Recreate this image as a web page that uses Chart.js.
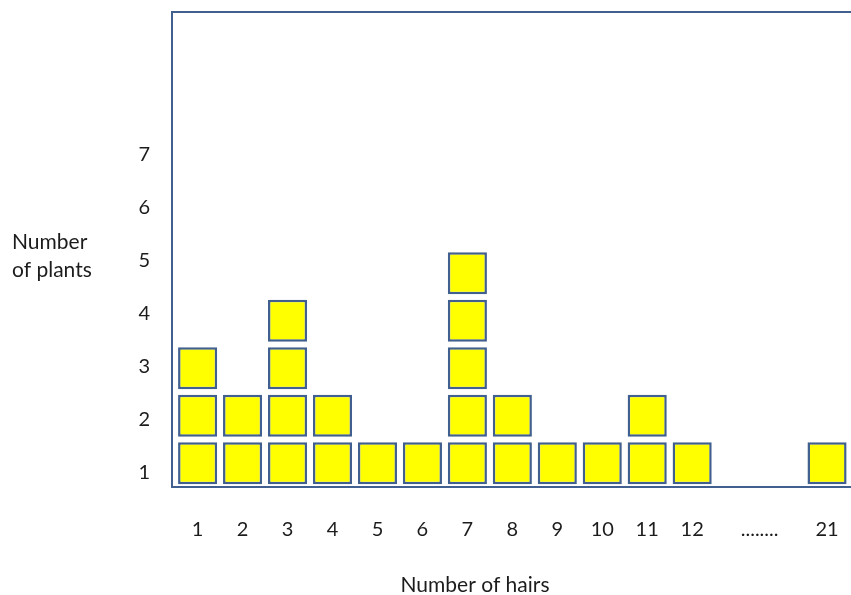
<!DOCTYPE html>
<html>
<head>
<meta charset="utf-8">
<script src="https://cdn.jsdelivr.net/npm/chart.js@4"></script>
<style>
  html, body { margin: 0; padding: 0; background: #ffffff; overflow: hidden; }
  #wrap { width: 872px; height: 595px; }
</style>
</head>
<body>
<div id="wrap"><canvas id="hairs" width="872" height="595"></canvas></div>
<script>
// number of hairs on a plant, and how many plants had that many
var HAIRS = ["1", "2", "3", "4", "5", "6", "7", "8", "9", "10", "11", "12", "21"];
var PLANTS = [3, 2, 4, 2, 1, 1, 5, 2, 1, 1, 2, 1, 1];
var GAP_LABEL = "........";
var Y_TICKS = [1, 2, 3, 4, 5, 6, 7];

// axis has a break after 12: the last category sits past a "........" gap
var BREAK_AFTER = 12;
function axisPos(i) {
    return i < BREAK_AFTER ? i + 1 : i + 3;
}

var xTicks = [];
var xTickLabels = [];
HAIRS.forEach(function (h, i) {
    if (i === BREAK_AFTER) {
        xTicks.push(BREAK_AFTER + 1.5);
        xTickLabels.push(GAP_LABEL);
    }
    xTicks.push(axisPos(i));
    xTickLabels.push(h);
});

// one little square per plant, stacked up
var squares = [];
var gap = 0.06;
PLANTS.forEach(function (n, i) {
    for (var k = 0; k < n; k++) {
        squares.push({ x: axisPos(i), y: [k + gap, k + 1 - gap] });
    }
});

var textColor = "#1c1c1c";
var boxColor = "#41608f";

var frameAndTitles = {
    id: "frameAndTitles",
    afterDraw: function (chart) {
        var ctx = chart.ctx;
        var a = chart.chartArea;
        ctx.save();
        ctx.strokeStyle = boxColor;
        ctx.lineWidth = 2;
        ctx.strokeRect(a.left, a.top, a.right - a.left, a.bottom - a.top);
        ctx.fillStyle = textColor;
        ctx.font = "21px Lato";
        ctx.textBaseline = "middle";
        ctx.textAlign = "left";
        ctx.fillText("Number", 12, 242);
        ctx.fillText("of plants", 12, 270);
        ctx.textAlign = "center";
        ctx.fillText("Number of hairs", 475, 585);
        ctx.restore();
    }
};

var ctx1 = document.getElementById("hairs").getContext("2d");
var myChart1 = new Chart(ctx1, {
    type: "bar",
    data: {
        datasets: [
            {
                label: "Plants",
                data: squares,
                backgroundColor: "#ffff00",
                borderColor: boxColor,
                borderWidth: 2.5,
                borderSkipped: false,
                barPercentage: 0.87,
                categoryPercentage: 1
            }
        ]
    },
    options: {
        responsive: false,
        animation: false,
        layout: { padding: { top: 12, right: 0, bottom: 0, left: 0 } },
        plugins: {
            legend: { display: false },
            tooltip: { enabled: false }
        },
        scales: {
            x: {
                type: "linear",
                min: 0.43,
                max: 16,
                offset: false,
                grid: { display: false, offset: false },
                border: { display: false },
                afterBuildTicks: function (scale) {
                    scale.ticks = xTicks.map(function (v) { return { value: v }; });
                },
                afterFit: function (scale) {
                    scale.height = 108;
                    scale.paddingLeft = 0;
                    scale.paddingRight = 0;
                },
                ticks: {
                    autoSkip: false,
                    maxRotation: 0,
                    padding: 23,
                    color: textColor,
                    font: { family: "Lato", size: 20 },
                    callback: function (value, index) { return xTickLabels[index]; }
                }
            },
            y: {
                type: "linear",
                display: false,
                min: 0,
                max: 10
            },
            yLabels: {
                type: "linear",
                position: "left",
                min: 0.736,
                max: 9.698,
                grid: { display: false },
                border: { display: false },
                afterBuildTicks: function (scale) {
                    scale.ticks = Y_TICKS.map(function (v) { return { value: v }; });
                },
                afterFit: function (scale) {
                    scale.width = 172;
                    scale.paddingTop = 0;
                    scale.paddingBottom = 0;
                },
                ticks: {
                    padding: 14,
                    color: textColor,
                    font: { family: "Lato", size: 20 }
                }
            }
        }
    },
    plugins: [frameAndTitles]
});
</script>
</body>
</html>
